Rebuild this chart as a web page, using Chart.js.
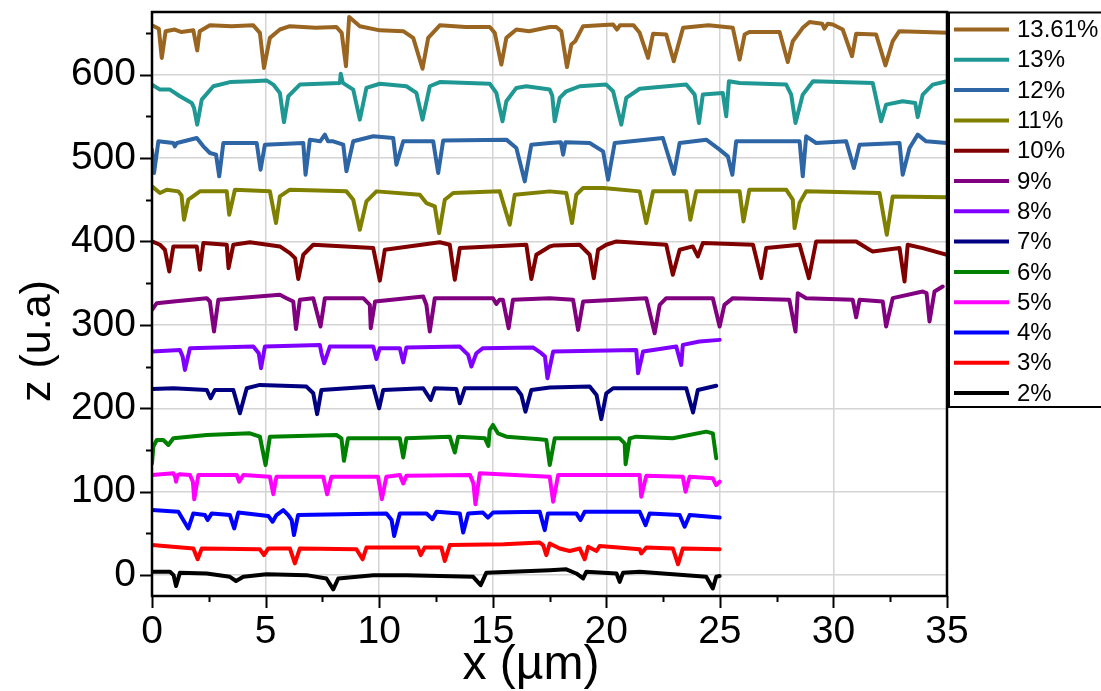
<!DOCTYPE html>
<html><head><meta charset="utf-8">
<script src="https://cdn.jsdelivr.net/npm/chart.js@4.4.1/dist/chart.umd.min.js"></script>
<style>html,body{margin:0;padding:0;background:#fff;}canvas{display:block;}</style>
</head><body>
<canvas id="c" width="1101" height="691"></canvas>
<script>
const seriesLabels = ['13.61%','13%','12%','11%','10%','9%','8%','7%','6%','5%','4%','3%','2%'];
const seriesColors = ['#9a6520','#1f9894','#2e65a5','#808000','#800000','#800080','#8000ff','#000080','#008000','#ff00ff','#0000ff','#ff0000','#000000'];
const xTicks = [0,5,10,15,20,25,30,35];
const yTicks = [0,100,200,300,400,500,600];

const s1361 = [[0,659],[0.3,655],[0.43,620],[0.6,652],[1.0,654],[1.3,651],[1.82,653],[1.99,629],[2.1,652],[2.55,659],[3.5,658],[4.46,659],[4.75,650],[4.93,608],[5.19,644],[5.63,654],[6.07,658],[7.2,656],[8.12,657],[8.35,650],[8.54,610],[8.68,669],[9.15,658],[10.03,653],[11.06,652],[11.5,644],[11.91,607],[12.16,644],[12.67,659],[13.8,657],[14.87,657],[15.09,650],[15.38,612],[15.6,644],[16.04,654],[16.6,652],[17.51,657],[17.8,657],[18.02,652],[18.27,609],[18.46,636],[18.63,640],[18.98,658],[20.3,660],[20.47,654],[20.6,659],[21.2,659],[21.47,650],[21.84,620],[22.06,649],[22.64,648],[22.97,616],[23.38,656],[24.5,659],[25.57,656],[25.87,618],[26.09,648],[26.3,651],[27.63,651],[27.99,615],[28.21,640],[28.65,656],[28.95,663],[29.5,661],[29.6,655],[29.75,661],[29.97,660],[30.41,654],[30.82,622],[31.0,649],[31.88,648],[32.29,611],[32.61,640],[32.9,652],[34.0,651],[35,650]];
const s13 = [[0,588],[0.35,582],[0.79,582],[1.23,574],[1.75,566],[1.85,560],[1.99,540],[2.19,570],[2.7,586],[3.43,591],[4.4,592],[5.04,593],[5.34,588],[5.63,578],[5.81,543],[6.0,574],[6.51,588],[8.27,590],[8.31,601],[8.4,590],[8.86,582],[9.15,546],[9.44,584],[10.03,589],[11.2,586],[11.64,578],[11.91,546],[12.23,586],[12.67,591],[14.87,589],[15.16,578],[15.43,544],[15.6,568],[16.04,584],[16.48,586],[17.51,582],[17.62,575],[17.73,544],[17.95,572],[18.24,580],[18.83,586],[20.0,588],[20.3,580],[20.66,540],[20.88,572],[21.47,583],[23.52,588],[23.89,576],[24.08,542],[24.25,576],[25.13,578],[25.28,550],[25.4,592],[25.87,590],[27.92,588],[28.14,576],[28.33,542],[28.65,576],[29.1,592],[31.73,590],[32.1,544],[32.32,564],[33.05,568],[33.6,566],[33.71,549],[33.93,576],[34.37,588],[35,592]];
const s12 = [[0,510],[0.09,482],[0.28,520],[0.94,518],[1.0,514],[1.1,518],[1.97,524],[2.26,514],[2.55,506],[2.82,504],[2.96,478],[3.14,518],[4.61,518],[4.78,486],[4.97,516],[6.66,518],[6.76,480],[6.95,522],[7.4,520],[7.61,528],[7.75,520],[7.98,520],[8.42,516],[8.56,484],[8.86,520],[9.74,526],[10.62,524],[10.76,492],[11.06,520],[12.38,520],[12.6,482],[12.82,521],[15.6,522],[16.04,512],[16.41,472],[16.7,516],[17.51,518],[18.0,519],[18.1,504],[18.2,519],[19.27,518],[19.86,508],[20.08,474],[20.37,518],[22.49,524],[22.98,481],[23.23,518],[24.4,522],[24.99,510],[25.35,502],[25.55,480],[25.72,520],[28.51,520],[28.65,478],[28.8,526],[29.24,518],[30.56,520],[30.9,488],[31.15,516],[32.91,518],[33.05,480],[33.35,512],[33.71,528],[34.08,520],[35,518]];
const s11 = [[0,466],[0.35,458],[0.65,462],[1.16,460],[1.3,455],[1.41,426],[1.6,450],[2.11,460],[3.29,460],[3.4,432],[3.65,462],[5.19,460],[5.46,422],[5.63,454],[6.07,462],[8.56,460],[8.86,450],[9.15,414],[9.44,448],[9.88,460],[11.79,456],[12.08,446],[12.45,442],[12.64,410],[12.89,450],[13.26,458],[15.31,460],[15.75,420],[15.97,456],[17.51,460],[18.24,458],[18.49,422],[18.68,456],[18.98,464],[19.86,464],[21.47,460],[21.76,422],[22.06,460],[23.52,460],[23.7,426],[23.96,460],[25.87,460],[26.04,424],[26.3,462],[27.92,462],[28.21,450],[28.29,416],[28.51,446],[28.8,460],[32.03,458],[32.35,408],[32.61,454],[35,453]];
const s10 = [[0,400],[0.35,396],[0.57,390],[0.76,364],[0.94,394],[1.97,394],[2.11,366],[2.26,398],[3.29,396],[3.37,368],[3.58,396],[4.31,399],[5.63,394],[6.07,386],[6.3,380],[6.44,355],[6.66,384],[7.1,396],[9.74,392],[10.03,353],[10.25,390],[12.67,399],[13.11,396],[13.33,354],[13.55,392],[16.48,396],[16.7,355],[16.92,384],[17.51,394],[17.66,395],[18.83,396],[19.27,384],[19.45,356],[19.64,390],[20.0,396],[20.45,400],[22.64,396],[22.93,360],[23.23,390],[23.81,394],[24.03,382],[24.25,398],[26.46,396],[26.82,356],[27.04,392],[28.51,396],[28.92,356],[29.24,400],[31.0,400],[31.59,390],[31.73,388],[32.91,392],[33.13,352],[33.27,396],[33.93,392],[35,384]];
const s9 = [[0,318],[0.21,326],[0.94,328],[2.41,332],[2.55,328],[2.73,292],[2.92,330],[5.63,336],[5.92,332],[6.22,328],[6.34,295],[6.51,330],[7.1,332],[7.42,298],[7.61,332],[9.3,332],[9.59,324],[9.63,296],[9.82,328],[11.94,334],[12.08,324],[12.23,292],[12.45,332],[15.01,332],[15.16,325],[15.3,330],[15.45,330],[15.7,296],[15.89,330],[17.51,332],[18.54,330],[18.76,294],[18.98,328],[21.76,332],[22.13,290],[22.35,324],[22.64,332],[24.69,332],[24.99,298],[25.2,324],[25.57,332],[28.06,330],[28.33,292],[28.43,338],[28.8,332],[30.85,330],[31.0,309],[31.15,330],[32.17,328],[32.32,298],[32.61,332],[33.93,340],[34.1,338],[34.23,304],[34.45,340],[34.81,346]];
const s8 = [[0,268],[1.23,270],[1.35,262],[1.45,246],[1.67,272],[4.46,274],[4.7,266],[4.8,248],[4.97,274],[7.39,276],[7.46,266],[7.58,254],[7.83,274],[9.74,274],[9.88,259],[10.03,272],[10.91,272],[11.06,255],[11.2,273],[13.55,274],[13.92,264],[14.06,250],[14.28,266],[14.57,272],[16.77,273],[17.14,266],[17.3,262],[17.41,236],[17.66,268],[21.32,270],[21.4,242],[21.62,268],[23.08,274],[23.3,252],[23.37,276],[24.1,280],[24.99,282]];
const s7 = [[0,223],[0.94,224],[2.41,222],[2.58,212],[2.77,222],[3.58,222],[3.87,194],[4.17,224],[4.75,228],[6.8,226],[7.1,218],[7.27,193],[7.46,222],[9.74,226],[10.0,200],[10.18,222],[11.94,224],[12.27,210],[12.45,224],[13.4,223],[13.55,206],[13.77,224],[16.04,224],[16.26,216],[16.44,196],[16.7,222],[17.51,225],[19.27,226],[19.57,216],[19.78,187],[20.0,218],[20.3,224],[23.52,224],[23.82,195],[24.03,222],[24.84,227]];
const s6 = [[0,134],[0.06,154],[0.21,162],[0.5,162],[0.72,156],[0.94,164],[2.41,168],[4.31,170],[4.75,166],[5.0,132],[5.19,166],[8.12,168],[8.34,164],[8.45,137],[8.63,164],[10.91,164],[11.06,141],[11.2,164],[13.11,166],[13.33,147],[13.48,166],[14.66,164],[14.81,155],[14.87,174],[15.01,180],[15.23,170],[15.6,166],[17.07,163],[17.36,162],[17.51,132],[17.73,164],[20.59,164],[20.81,158],[20.85,133],[21.03,164],[21.32,166],[22.93,164],[24.4,172],[24.69,170],[24.84,140]];
const s5 = [[0,120],[0.94,122],[1.02,118],[1.06,112],[1.12,120],[1.23,121],[1.67,120],[1.8,112],[1.86,91],[2.04,120],[3.73,120],[3.84,112],[4.02,120],[5.19,118],[5.34,97],[5.48,118],[7.54,118],[7.71,97],[7.9,118],[9.95,118],[10.12,91],[10.32,118],[10.91,120],[11.06,110],[11.2,119],[14.0,120],[14.15,110],[14.24,85],[14.43,122],[17.51,118],[17.66,88],[17.88,120],[21.47,120],[21.54,94],[21.76,119],[23.37,118],[23.49,100],[23.67,118],[24.69,116],[24.84,108],[24.99,112]];
const s4 = [[0,78],[1.16,76],[1.6,56],[1.82,74],[2.33,72],[2.45,66],[2.63,74],[3.43,72],[3.62,56],[3.8,75],[5.12,71],[5.31,64],[5.48,72],[5.78,78],[6.0,72],[6.15,66],[6.25,48],[6.43,72],[10.32,74],[10.55,66],[10.66,47],[10.91,74],[12.08,74],[12.35,67],[12.53,76],[13.55,74],[13.7,51],[13.92,74],[14.57,75],[14.79,69],[15.01,75],[17.07,76],[17.29,54],[17.43,74],[18.68,74],[18.86,66],[19.05,76],[21.47,76],[21.73,60],[21.91,74],[23.23,72],[23.45,58],[23.67,72],[24.99,69]];
const s3 = [[0,36],[1.82,32],[2.01,19],[2.19,32],[4.75,31],[4.93,24],[5.12,32],[6.07,32],[6.29,14],[6.51,32],[9.0,31],[9.27,19],[9.44,33],[11.71,33],[11.83,24],[12.0,33],[12.74,33],[12.89,17],[13.11,36],[15.5,37],[17.07,39],[17.22,36],[17.36,24],[17.51,38],[17.95,32],[18.39,29],[18.83,32],[19.05,19],[19.2,34],[19.57,29],[19.71,35],[21.47,31],[21.54,26],[21.76,33],[22.93,32],[23.16,13],[23.37,32],[24.99,31]];
const s2 = [[0,4],[0.79,4],[0.95,0],[1.06,-13],[1.23,3],[2.41,2],[3.43,-2],[3.7,-7],[4.02,-2],[5.04,1],[6.8,0],[7.68,-4],[7.98,-17],[8.2,-4],[9.74,0],[11.2,0],[14.14,-2],[14.47,-12],[14.72,3],[17.51,6],[18.24,7],[18.68,2],[18.98,-4],[19.12,4],[20.45,2],[20.59,-8],[20.74,3],[21.47,4],[24.4,-2],[24.69,-16],[24.84,-2],[24.99,-1]];
const seriesData = [s1361,s13,s12,s11,s10,s9,s8,s7,s6,s5,s4,s3,s2];

const FONT = 'Liberation Sans, Arial, Helvetica, sans-serif';
const TICK_SIZE = 39, XTITLE_SIZE = 48, YTITLE_SIZE = 43, LEG_SIZE = 24;

const framePlugin = {
  id: 'frame',
  afterDraw(chart) {
    const ctx = chart.ctx, a = chart.chartArea;
    const xs = chart.scales.x, ys = chart.scales.y;
    ctx.save();
    ctx.strokeStyle = '#000';
    ctx.lineWidth = 2.5;
    ctx.strokeRect(a.left, a.top, a.right - a.left, a.bottom - a.top);
    ctx.lineWidth = 2;
    for (let v = 0; v <= 650; v += 50) {
      const py = Math.round(ys.getPixelForValue(v)) + 0.5;
      const len = (v % 100 === 0) ? 12 : 6;
      ctx.beginPath(); ctx.moveTo(a.left - len, py); ctx.lineTo(a.left, py); ctx.stroke();
    }
    for (let v = 0; v <= 35; v += 2.5) {
      const px = Math.round(xs.getPixelForValue(v)) + 0.5;
      const len = (v % 5 === 0) ? 12 : 6;
      ctx.beginPath(); ctx.moveTo(px, a.bottom); ctx.lineTo(px, a.bottom + len); ctx.stroke();
    }
    ctx.fillStyle = '#000';
    ctx.textAlign = 'center'; ctx.textBaseline = 'middle';
    ctx.font = XTITLE_SIZE + 'px ' + FONT;
    ctx.fillText('x (µm)', 531, 666);
    ctx.font = YTITLE_SIZE + 'px ' + FONT;
    ctx.save();
    ctx.translate(38, 341); ctx.rotate(-Math.PI / 2);
    ctx.fillText('z (u.a)', 0, 0);
    ctx.restore();
    ctx.fillStyle = '#fff';
    ctx.fillRect(949, 12, 160, 395);
    ctx.lineWidth = 2;
    ctx.strokeStyle = '#000';
    ctx.strokeRect(949, 12.5, 160, 394.5);
    ctx.font = LEG_SIZE + 'px ' + FONT;
    ctx.textAlign = 'left'; ctx.textBaseline = 'middle';
    seriesLabels.forEach((lab, i) => {
      const y = 29.5 + i * 30.3;
      ctx.strokeStyle = seriesColors[i]; ctx.lineWidth = 4;
      ctx.beginPath(); ctx.moveTo(954, y); ctx.lineTo(1009, y); ctx.stroke();
      ctx.fillStyle = '#000';
      ctx.fillText(lab, 1017, y + 1);
    });
    ctx.restore();
  }
};

new Chart(document.getElementById('c'), {
  type: 'line',
  data: {
    datasets: seriesData.map((d, i) => ({
      label: seriesLabels[i], data: d, borderColor: seriesColors[i], backgroundColor: seriesColors[i],
      borderWidth: 4, pointRadius: 0, tension: 0, fill: false, borderJoinStyle: 'round', borderCapStyle: 'round'
    }))
  },
  options: {
    responsive: false, animation: false, devicePixelRatio: 1,
    layout: { padding: { top: 12, right: 154, left: 0, bottom: 0 } },
    plugins: { legend: { display: false }, tooltip: { enabled: false } },
    scales: {
      x: {
        type: 'linear', min: 0, max: 35,
        afterFit(s) { s.height = 95; s.paddingLeft = 0; s.paddingRight = 0; },
        afterBuildTicks(s) { s.ticks = xTicks.map(v => ({ value: v })); },
        ticks: { font: { family: FONT, size: TICK_SIZE }, color: '#000', padding: 13, maxRotation: 0 },
        grid: { color: '#d4d4d4', lineWidth: 1.5, drawTicks: false },
        border: { display: false }
      },
      y: {
        type: 'linear', min: -25, max: 675,
        afterFit(s) { s.width = 152; s.paddingTop = 0; s.paddingBottom = 0; },
        afterBuildTicks(s) { s.ticks = yTicks.map(v => ({ value: v })); },
        ticks: { font: { family: FONT, size: TICK_SIZE }, color: '#000', padding: 16 },
        grid: { color: '#d4d4d4', lineWidth: 1.5, drawTicks: false },
        border: { display: false }
      }
    }
  },
  plugins: [framePlugin]
});
</script>
</body></html>
